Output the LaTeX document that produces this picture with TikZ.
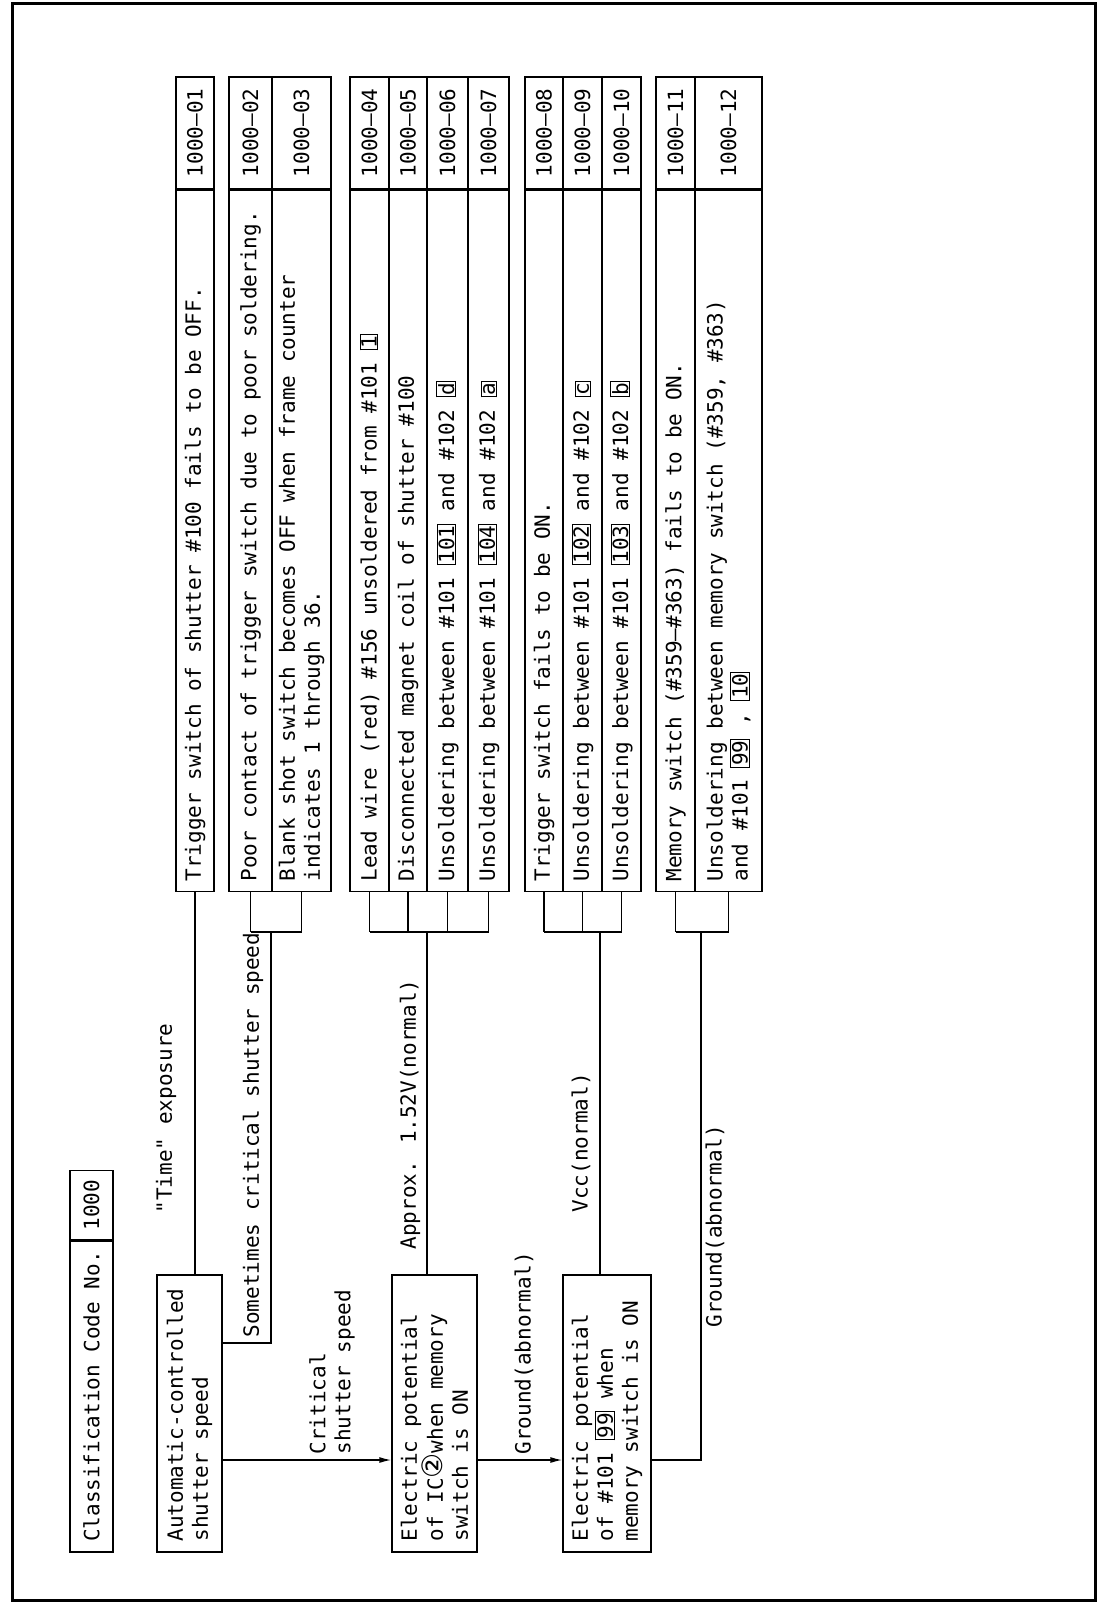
\documentclass[tikz,border=0pt]{standalone}
\usepackage{fontspec}
\setmainfont{DejaVu Sans Mono}
\newfontfamily\circfont{DejaVu Sans}
\usepackage{tikz}
\usetikzlibrary{positioning, arrows.meta}

\newcommand{\pin}[1]{{\setlength{\fboxsep}{0.8pt}\setlength{\fboxrule}{1pt}\fbox{#1}}}
\newcommand{\ring}[1]{{\circfont\fontsize{28}{25}\selectfont #1}}

\begin{document}
\begin{tikzpicture}[
      x=1pt, y=-1pt,
      >={Latex[length=12pt, width=6pt]},
      every node/.style={font=\fontsize{21}{25}\selectfont, rotate=90},
      box/.style={draw, line width=1.4pt, inner sep=0pt},
      cond/.style={box, align=flush left, text width=256pt, inner xsep=10.5pt, minimum height=#1},
      cause/.style={box, align=flush left, text width=681pt, inner xsep=10pt, minimum height=#1},
      code/.style={box, minimum width=112pt, minimum height=#1},
      lbl/.style={inner sep=0pt, anchor=west, align=flush left},
      line width=1.4pt]
    \useasboundingbox (0,0) rectangle (1110,1605);
    \draw[line width=3pt] (12,4) rectangle (1095,1600);
    % left column (checks)
    \node[box, minimum width=311pt, minimum height=43pt] (clsname) at (91.5,1396.5) {Classification Code No.};
    \node[box, minimum width=69pt, minimum height=43pt, anchor=west] (clsnum) at (clsname.east) {1000};
    \node[cond=65pt] (auto) at (189.5,1413.5) {Automatic-controlled\\shutter speed};
    \node[cond=85pt] (ic) at (434.5,1413.5) {Electric potential\\of IC\ring{②}when memory\\switch is ON};
    \node[cond=88pt] (mem) at (607,1413.5) {Electric potential\\of \#101 \pin{99} when\\memory switch is ON};
    % right column (causes and codes)
    \node[cause=38pt, anchor=west] (t01) at (195,892) {Trigger switch of shutter \#100 fails to be OFF.};
    \node[code=38pt, anchor=west] (c01) at (t01.east) {1000–01};
    \node[cause=43pt, anchor=west] (t02) at (250.5,892) {Poor contact of trigger switch due to poor soldering.};
    \node[code=43pt, anchor=west] (c02) at (t02.east) {1000–02};
    \node[cause=59pt, anchor=west] (t03) at (301.5,892) {Blank shot switch becomes OFF when frame counter\\indicates 1 through 36.};
    \node[code=59pt, anchor=west] (c03) at (t03.east) {1000–03};
    \node[cause=39pt, anchor=west] (t04) at (369.5,892) {Lead wire (red) \#156 unsoldered from \#101 \pin{1}};
    \node[code=39pt, anchor=west] (c04) at (t04.east) {1000–04};
    \node[cause=38pt, anchor=west] (t05) at (408,892) {Disconnected magnet coil of shutter \#100};
    \node[code=38pt, anchor=west] (c05) at (t05.east) {1000–05};
    \node[cause=41pt, anchor=west] (t06) at (447.5,892) {Unsoldering between \#101 \pin{101} and \#102 \pin{d}};
    \node[code=41pt, anchor=west] (c06) at (t06.east) {1000–06};
    \node[cause=41pt, anchor=west] (t07) at (488.5,892) {Unsoldering between \#101 \pin{104} and \#102 \pin{a}};
    \node[code=41pt, anchor=west] (c07) at (t07.east) {1000–07};
    \node[cause=38pt, anchor=west] (t08) at (544,892) {Trigger switch fails to be ON.};
    \node[code=38pt, anchor=west] (c08) at (t08.east) {1000–08};
    \node[cause=39pt, anchor=west] (t09) at (582.5,892) {Unsoldering between \#101 \pin{102} and \#102 \pin{c}};
    \node[code=39pt, anchor=west] (c09) at (t09.east) {1000–09};
    \node[cause=39pt, anchor=west] (t10) at (621.5,892) {Unsoldering between \#101 \pin{103} and \#102 \pin{b}};
    \node[code=39pt, anchor=west] (c10) at (t10.east) {1000–10};
    \node[cause=39pt, anchor=west] (t11) at (675.5,892) {Memory switch (\#359–\#363) fails to be ON.};
    \node[code=39pt, anchor=west] (c11) at (t11.east) {1000–11};
    \node[cause=67pt, anchor=west] (t12) at (728.5,892) {Unsoldering between memory switch (\#359, \#363)\\and \#101 \pin{99} , \pin{10}};
    \node[code=67pt, anchor=west] (c12) at (t12.east) {1000–12};
    % branch labels
    \node[lbl] (ltime) at (166,1214) {\textquotedbl Time\textquotedbl{} exposure};
    \node[lbl] (lsome) at (253,1338) {Sometimes critical shutter speed};
    \node[lbl] (lcrit) at (332,1455) {Critical\\shutter speed};
    \node[lbl] (lgnd1) at (524,1455) {Ground(abnormal)};
    \node[lbl] (lappr) at (410,1250) {Approx. 1.52V(normal)};
    \node[lbl] (lvcc) at (581,1213) {Vcc(normal)};
    \node[lbl] (lgnd2) at (715,1328) {Ground(abnormal)};
    % junction points
    \coordinate (jarr) at (0,1460);
    \coordinate (jsome) at (0,1343);
    \coordinate (k2) at (271,932);
    \coordinate (k3) at (427,932);
    \coordinate (k4) at (600,932);
    \coordinate (k5) at (701,932);
    % checks -> causes
    \draw (t01.west |- auto.east) -- (t01.west);
    \draw (auto.south |- jsome) -| (k2);
    \draw[->] (auto.south |- jarr) -- (ic.north |- jarr);
    \draw (k3 |- ic.east) -- (k3);
    \draw[->] (ic.south |- jarr) -- (mem.north |- jarr);
    \draw (k4 |- mem.east) -- (k4);
    \draw (mem.south |- jarr) -| (k5);
    % bars and stubs
    \draw (t02.west |- k2) -- (t03.west |- k2);
    \foreach \r in {t02,t03} \draw (\r.west) -- (\r.west |- k2);
    \draw (t04.west |- k3) -- (t07.west |- k3);
    \foreach \r in {t04,t05,t06,t07} \draw (\r.west) -- (\r.west |- k3);
    \draw (t08.west |- k4) -- (t10.west |- k4);
    \foreach \r in {t08,t09,t10} \draw (\r.west) -- (\r.west |- k4);
    \draw (t11.west |- k5) -- (t12.west |- k5);
    \foreach \r in {t11,t12} \draw (\r.west) -- (\r.west |- k5);
  \end{tikzpicture}
\end{document}
